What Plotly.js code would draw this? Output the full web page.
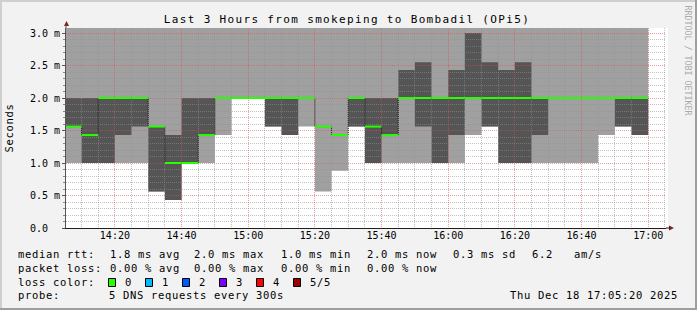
<!DOCTYPE html>
<html><head><meta charset="utf-8">
<script src="https://cdn.plot.ly/plotly-3.0.1.min.js"></script>
<style>html,body{margin:0;padding:0;background:#f2f2f2;}#chart{width:697px;height:310px;}</style>
</head><body><div id="chart"></div>
<script>
// ---------- data ----------
const day = '2025-12-18';
const slotStart = ['14:05','14:10','14:15','14:20','14:25','14:30','14:35','14:40','14:45','14:50','14:55',
  '15:00','15:05','15:10','15:15','15:20','15:25','15:30','15:35','15:40','15:45','15:50','15:55',
  '16:00','16:05','16:10','16:15','16:20','16:25','16:30','16:35','16:40','16:45','16:50','16:55'];
const lastSlotEnd = '17:00';
// sorted pings per 5-minute slot (seconds, shown as ms scale "m")
const ping1 = [1.00,1.00,1.00,1.00,1.00,0.56,0.43,1.00,1.00,1.43,2.00,2.00,1.56,1.43,1.56,0.56,0.88,1.56,1.00,1.00,1.00,1.00,1.00,1.00,1.43,1.56,1.00,1.00,1.00,1.00,1.00,1.00,1.43,1.56,1.43];
const ping2 = [1.56,1.00,1.00,1.43,1.56,0.56,0.43,1.00,1.43,2.00,2.00,2.00,1.56,1.43,2.00,1.56,1.43,1.56,1.00,1.43,2.00,1.56,1.00,1.43,2.00,1.56,1.00,1.00,1.43,2.00,2.00,2.00,2.00,1.56,1.43];
const median = [1.56,1.43,2.00,2.00,2.00,1.56,1.00,1.00,1.43,2.00,2.00,2.00,2.00,2.00,2.00,1.56,1.43,2.00,1.56,1.43,2.00,2.00,2.00,2.00,2.00,2.00,2.00,2.00,2.00,2.00,2.00,2.00,2.00,2.00,2.00];
const ping4 = [2.00,2.00,2.00,2.00,2.00,1.56,1.43,2.00,2.00,2.00,2.00,2.00,2.00,2.00,2.00,1.56,1.43,2.00,2.00,2.00,2.43,2.55,2.00,2.43,3.00,2.55,2.43,2.55,2.00,2.00,2.00,2.00,2.00,2.00,2.00];
const ping5 = [3.10,3.10,3.10,3.10,3.10,3.10,3.10,3.10,3.10,3.10,3.10,3.10,3.10,3.10,3.10,3.10,3.10,3.10,3.10,3.10,3.10,3.10,3.10,3.10,3.10,3.10,3.10,3.10,3.10,3.10,3.10,3.10,3.10,3.10,3.10];
const yTickVals = [0,0.5,1.0,1.5,2.0,2.5,3.0];
const yTickText = ['0.0\u00a0\u00a0','0.5 m','1.0 m','1.5 m','2.0 m','2.5 m','3.0 m'];
const statsRtt = ['1.8 ms avg','2.0 ms max','1.0 ms min','2.0 ms now','0.3 ms sd','6.2','am/s'];
const statsLoss = ['0.00 % avg','0.00 % max','0.00 % min','0.00 % now'];
const lossLabels = ['0','1','2','3','4','5/5'];
const lossColors = ['#26ff00','#00b8ff','#0059ff','#7e00ff','#ff0000','#a10000'];
const probeText = '5 DNS requests every 300s';
const stampText = 'Thu Dec 18 17:05:20 2025';
const titleText = 'Last 3 Hours from smokeping to Bombadil (OPi5)';

// ---------- geometry ----------
const L = 66, PW = 600, T = 28, PH = 200, B = 310 - T - PH;
const px = x => (x - L) / PW;
const py = y => (T + PH - y) / PH;
const MONO = 'DejaVu Sans Mono';
const spaced = (s, ls) => '<span style="letter-spacing:' + ls + 'px">' + s.replace(/ /g, '\u00a0') + '</span>';

const t = s => day + ' ' + s;
const stepX = slotStart.map(t).concat([t(lastSlotEnd)]);
const stepY = arr => arr.concat([arr[arr.length - 1]]);

const baseTrace = {type: 'scatter', mode: 'lines', xaxis: 'x', yaxis: 'y', hoverinfo: 'skip', showlegend: false};
const overTrace = {type: 'scatter', mode: 'lines', xaxis: 'x2', yaxis: 'y2', hoverinfo: 'skip', showlegend: false};
const traces = [
  Object.assign({}, baseTrace, {x: stepX, y: stepY(ping1), line: {width: 0, shape: 'hv'}}),
  Object.assign({}, baseTrace, {x: stepX, y: stepY(ping5), line: {width: 0, shape: 'hv'}, fill: 'tonexty', fillcolor: '#a0a0a0'}),
  Object.assign({}, baseTrace, {x: stepX, y: stepY(ping2), line: {width: 0, shape: 'hv'}}),
  Object.assign({}, baseTrace, {x: stepX, y: stepY(ping4), line: {width: 0, shape: 'hv'}, fill: 'tonexty', fillcolor: '#555555'}),
  // median drawn on the overlay subplot so it sits above the grid
  Object.assign({}, overTrace, {x: stepX, y: stepY(median), line: {width: 1, shape: 'hv', color: 'rgba(0,0,0,0.85)', dash: '1px,1px'}})
];
// green median segments (horizontal only)
const mx = [], my = [];
slotStart.forEach((s, i) => { mx.push(stepX[i], stepX[i + 1], null); my.push(median[i], median[i], null); });
traces.push(Object.assign({}, overTrace, {x: mx, y: my, line: {width: 2, color: lossColors[0]}}));

const xRange = [t('14:05:20'), t('17:05:20')];
const yRange = [0, PH / 65];
const gridMajor = 'rgba(222,79,79,0.55)', gridMinor = 'rgba(143,143,143,0.55)';

const annotations = [];
const ann = (text, x, y, opts) => annotations.push(Object.assign({xref: 'paper', yref: 'paper', x: px(x), y: py(y),
  xanchor: 'left', yanchor: 'middle', showarrow: false, text: text,
  font: {family: MONO, size: 10.5, color: '#000'}}, opts || {}));
const LS = 0.68;
const rows = [254.4, 267.7, 281.7, 295.4];
const cols = [107.6, 192, 279.2, 365.3, 451.4, 529.8, 572.2];
ann(spaced('median rtt:', LS), 16, rows[0]);
statsRtt.forEach((s, i) => ann(spaced(s, LS), cols[i], rows[0]));
ann(spaced('packet loss:', LS), 16, rows[1]);
statsLoss.forEach((s, i) => ann(spaced(s, LS), cols[i], rows[1]));
ann(spaced('loss color:', LS), 16, rows[2]);
lossLabels.forEach((s, i) => ann(spaced(s, LS), 122.5 + i * 37, rows[2]));
ann(spaced('probe:', LS), 16, rows[3]);
ann(spaced(probeText, LS), 107.3, rows[3]);
ann(spaced(stampText, LS), 680, rows[3], {xanchor: 'right'});
ann('RRDTOOL / TOBI OETIKER', 687.5, 60, {xanchor: 'center', textangle: 90, font: {family: MONO, size: 8.3, color: '#ababab'}});

const shapes = [];
// plot canvas (white) below everything
shapes.push({type: 'rect', xref: 'paper', yref: 'paper', x0: 0, x1: px(668), y0: 0, y1: 1, layer: 'below', fillcolor: '#ffffff', line: {width: 0}});
// loss colour boxes
lossColors.forEach((c, i) => shapes.push({type: 'rect', xref: 'paper', yref: 'paper',
  x0: px(108.5 + i * 37), x1: px(115.5 + i * 37), y0: py(286.5), y1: py(278.5), fillcolor: c, line: {color: '#000', width: 1}}));
// frame
const fr = (x0, y0, x1, y1, c) => shapes.push({type: 'rect', xref: 'paper', yref: 'paper', x0: px(x0), x1: px(x1), y0: py(y1), y1: py(y0), fillcolor: c, line: {width: 0}, layer: 'above'});
fr(0, 0, 697, 2, '#cfcfcf'); fr(0, 0, 2, 310, '#cfcfcf');
fr(695, 0, 697, 310, '#9e9e9e'); fr(0, 308, 697, 310, '#9e9e9e');
// arrows
const P = (x, y) => px(x) + ',' + py(y);
shapes.push({type: 'path', xref: 'paper', yref: 'paper', path: 'M' + P(64, 26) + 'L' + P(66.5, 21) + 'L' + P(69, 26) + 'Z', fillcolor: '#801f1f', line: {width: 0}});
shapes.push({type: 'path', xref: 'paper', yref: 'paper', path: 'M' + P(669, 225.5) + 'L' + P(674, 228) + 'L' + P(669, 230.5) + 'Z', fillcolor: '#801f1f', line: {width: 0}});
shapes.push({type: 'line', xref: 'paper', yref: 'paper', x0: px(66), x1: px(66), y0: py(28), y1: py(25), line: {color: '#555', width: 1}});
shapes.push({type: 'line', xref: 'paper', yref: 'paper', x0: px(666), x1: px(670), y0: py(228), y1: py(228), line: {color: '#1f1f1f', width: 1}});

const layout = {
  width: 697, height: 310,
  margin: {l: L, r: 697 - L - PW, t: T, b: B, pad: 0},
  paper_bgcolor: '#f2f2f2', plot_bgcolor: 'rgba(0,0,0,0)',
  showlegend: false,
  title: {text: spaced(titleText, 1.34), font: {family: MONO, size: 11, color: '#000'},
    xref: 'container', yref: 'container', x: 347 / 697, xanchor: 'center', y: 1 - 19 / 310, yanchor: 'middle'},
  xaxis: {type: 'date', range: xRange, domain: [0, 1], anchor: 'y', showgrid: false, zeroline: false, showline: false,
    tickmode: 'linear', tick0: t('14:20'), dtick: 20 * 60 * 1000, tickformat: '%H:%M', ticks: '',
    tickfont: {family: MONO, size: 10, color: '#000'}},
  yaxis: {range: yRange, domain: [0, 1], anchor: 'x', showgrid: false, zeroline: false, showline: false,
    tickmode: 'array', tickvals: yTickVals, ticktext: yTickText, ticks: 'outside', ticklen: 3, tickcolor: '#555', tickwidth: 1,
    minor: {dtick: 0.1, ticks: 'outside', ticklen: 2, tickcolor: '#888', showgrid: false},
    tickfont: {family: MONO, size: 10, color: '#000'},
    title: {text: spaced('Seconds', LS), font: {family: MONO, size: 10.5, color: '#000'}, standoff: 14}},
  xaxis2: {type: 'date', range: xRange, domain: [0, 1], anchor: 'y2', showticklabels: false, ticks: '', zeroline: false,
    showline: true, linecolor: '#1f1f1f', linewidth: 1,
    tickmode: 'linear', tick0: t('14:20'), dtick: 20 * 60 * 1000,
    showgrid: true, gridcolor: gridMajor, griddash: '1px,1px', gridwidth: 1,
    minor: {tick0: t('14:10'), dtick: 5 * 60 * 1000, showgrid: true, gridcolor: gridMinor, griddash: '1px,1px', gridwidth: 1}},
  yaxis2: {range: yRange, domain: [0, 1], anchor: 'x2', showticklabels: false, ticks: '', zeroline: false,
    showline: true, linecolor: '#555', linewidth: 1,
    tickmode: 'linear', tick0: 0, dtick: 0.5,
    showgrid: true, gridcolor: gridMajor, griddash: '1px,1px', gridwidth: 1,
    minor: {dtick: 0.1, showgrid: true, gridcolor: gridMinor, griddash: '1px,1px', gridwidth: 1}},
  annotations: annotations,
  shapes: shapes
};
Plotly.newPlot('chart', traces, layout, {staticPlot: true, displayModeBar: false});
</script></body></html>
